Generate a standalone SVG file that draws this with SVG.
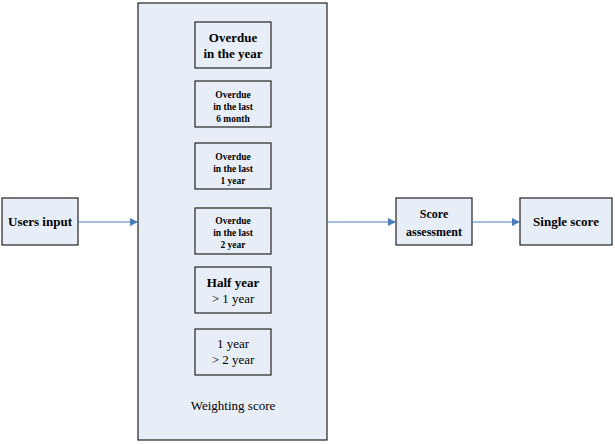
<svg xmlns="http://www.w3.org/2000/svg" width="615" height="444" viewBox="0 0 615 444" font-family="Liberation Serif, Times New Roman, serif">
<style>
.box{fill:#E8EEF8;stroke:#222;stroke-width:1.2}
text{fill:#000;text-anchor:middle}
.b{font-weight:bold}
.l{font-size:13px}
.s{font-size:9.5px}
.conn{stroke:#4A7EBB;stroke-width:1.2;fill:none;marker-end:url(#ah)}
</style>
<defs>
<marker id="ah" viewBox="0 0 10 10" refX="10" refY="5" markerWidth="8" markerHeight="8" markerUnits="userSpaceOnUse" orient="auto">
<path d="M0,0 L10,5 L0,10 z" fill="#4A7EBB"/>
</marker>
</defs>
<rect width="615" height="444" fill="#fff"/>
<g id="users-input">
<rect class="box" x="2" y="198" width="76" height="47"/>
<text class="b l" x="40" y="226">Users input</text>
</g>
<g id="weighting">
<rect class="box" x="138" y="3" width="189" height="437"/>
<text class="l" x="233" y="410">Weighting score</text>
</g>
<g id="n1">
<rect class="box" x="195" y="22" width="76" height="46"/>
<text class="b l" x="233" y="42">Overdue</text>
<text class="b l" x="233" y="58">in the year</text>
</g>
<g id="n2">
<rect class="box" x="195" y="81" width="76" height="46"/>
<text class="b s" x="233" y="98">Overdue</text>
<text class="b s" x="233" y="110">in the last</text>
<text class="b s" x="233" y="122">6 month</text>
</g>
<g id="n3">
<rect class="box" x="195" y="143" width="76" height="46"/>
<text class="b s" x="233" y="160">Overdue</text>
<text class="b s" x="233" y="172">in the last</text>
<text class="b s" x="233" y="184">1 year</text>
</g>
<g id="n4">
<rect class="box" x="195" y="208" width="76" height="46"/>
<text class="b s" x="233" y="224">Overdue</text>
<text class="b s" x="233" y="236">in the last</text>
<text class="b s" x="233" y="248">2 year</text>
</g>
<g id="n5">
<rect class="box" x="195" y="267" width="76" height="46"/>
<text class="b l" x="233" y="287">Half year</text>
<text class="l" x="233" y="303">&gt; 1 year</text>
</g>
<g id="n6">
<rect class="box" x="195" y="329" width="76" height="46"/>
<text class="l" x="233" y="348">1 year</text>
<text class="l" x="233" y="364">&gt; 2 year</text>
</g>
<g id="score-assessment">
<rect class="box" x="396" y="198" width="76" height="47"/>
<text class="b" x="434" y="218" font-size="12">Score</text>
<text class="b" x="434" y="236" font-size="12">assessment</text>
</g>
<g id="single-score">
<rect class="box" x="520" y="198" width="92" height="47"/>
<text class="b l" x="566" y="226">Single score</text>
</g>
<g id="connectors">
<line class="conn" x1="78" y1="222" x2="138" y2="222"/>
<line class="conn" x1="327" y1="222" x2="396" y2="222"/>
<line class="conn" x1="472" y1="222" x2="520" y2="222"/>
</g>
</svg>
